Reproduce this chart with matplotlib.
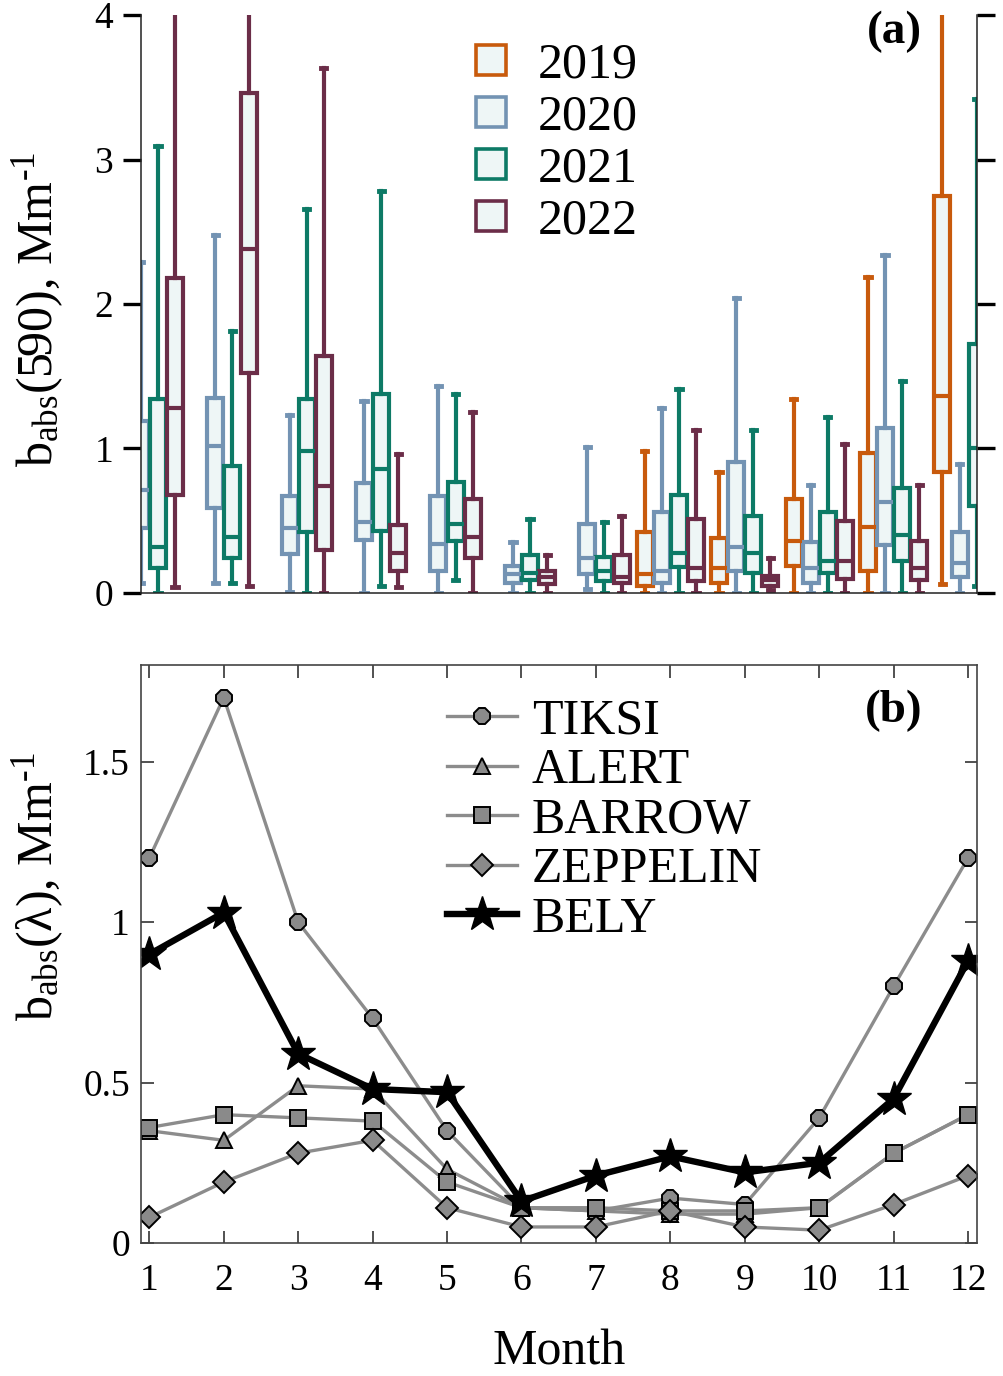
import matplotlib
matplotlib.use('Agg')
import matplotlib.pyplot as plt
from matplotlib.lines import Line2D

plt.rcParams['font.family'] = ['Liberation Serif', 'DejaVu Serif']
plt.rcParams['mathtext.fontset'] = 'custom'
plt.rcParams['mathtext.rm'] = 'Liberation Serif'
plt.rcParams['mathtext.it'] = 'Liberation Serif:italic'

# ---- panel (a): monthly box statistics (low whisker, q1, median, q3, high whisker)
months = list(range(1, 13))
years = ['2019', '2020', '2021', '2022']

box_2019 = [None, None, None, None, None, None, None,
            (0.00, 0.05, 0.13, 0.42, 0.98),
            (0.00, 0.07, 0.17, 0.38, 0.84),
            (0.00, 0.19, 0.36, 0.65, 1.34),
            (0.00, 0.15, 0.46, 0.97, 2.19),
            (0.06, 0.84, 1.36, 2.75, 4.30)]
box_2020 = [(0.07, 0.45, 0.71, 1.19, 2.29),
            (0.07, 0.59, 1.02, 1.35, 2.48),
            (0.01, 0.27, 0.45, 0.67, 1.23),
            (0.00, 0.37, 0.49, 0.76, 1.33),
            (0.00, 0.15, 0.34, 0.67, 1.43),
            (0.00, 0.07, 0.13, 0.19, 0.35),
            (0.03, 0.13, 0.24, 0.48, 1.01),
            (0.00, 0.07, 0.15, 0.56, 1.28),
            (0.00, 0.15, 0.32, 0.91, 2.04),
            (0.00, 0.07, 0.17, 0.35, 0.75),
            (0.00, 0.33, 0.63, 1.14, 2.34),
            (0.00, 0.11, 0.21, 0.42, 0.89)]
box_2021 = [(0.00, 0.17, 0.32, 1.34, 3.09),
            (0.07, 0.24, 0.39, 0.88, 1.81),
            (0.00, 0.42, 0.98, 1.34, 2.66),
            (0.05, 0.43, 0.86, 1.38, 2.78),
            (0.09, 0.36, 0.48, 0.77, 1.38),
            (0.00, 0.09, 0.14, 0.26, 0.51),
            (0.00, 0.08, 0.15, 0.25, 0.49),
            (0.00, 0.18, 0.28, 0.68, 1.41),
            (0.00, 0.14, 0.28, 0.53, 1.13),
            (0.00, 0.14, 0.22, 0.56, 1.22),
            (0.00, 0.22, 0.40, 0.73, 1.47),
            (0.05, 0.60, 1.00, 1.72, 3.42)]
box_2022 = [(0.04, 0.68, 1.28, 2.18, 4.30),
            (0.05, 1.52, 2.38, 3.46, 4.30),
            (0.00, 0.30, 0.74, 1.64, 3.63),
            (0.04, 0.15, 0.28, 0.47, 0.96),
            (0.00, 0.24, 0.39, 0.65, 1.25),
            (0.00, 0.06, 0.11, 0.15, 0.26),
            (0.00, 0.07, 0.11, 0.26, 0.53),
            (0.00, 0.08, 0.17, 0.51, 1.13),
            (0.02, 0.05, 0.09, 0.12, 0.24),
            (0.00, 0.10, 0.22, 0.50, 1.03),
            (0.00, 0.09, 0.17, 0.36, 0.75),
            None]

# ---- panel (b): monthly means per station
tiksi = [1.20, 1.70, 1.00, 0.70, 0.35, 0.11, 0.10, 0.14, 0.12, 0.39, 0.80, 1.20]
alert = [0.35, 0.32, 0.49, 0.48, 0.23, 0.11, 0.10, 0.09, 0.09, 0.11, 0.28, 0.40]
barrow = [0.36, 0.40, 0.39, 0.38, 0.19, 0.11, 0.11, 0.10, 0.10, 0.11, 0.28, 0.40]
zeppelin = [0.08, 0.19, 0.28, 0.32, 0.11, 0.05, 0.05, 0.10, 0.05, 0.04, 0.12, 0.21]
bely = [0.90, 1.03, 0.59, 0.48, 0.47, 0.13, 0.21, 0.27, 0.22, 0.25, 0.45, 0.88]

year_colors = ['#c85a0c', '#7393b3', '#0d7a66', '#6b2d48']
box_fill = '#eef6f6'
offsets = [-0.345, -0.115, 0.115, 0.345]

W, H = 1004, 1376
fig = plt.figure(figsize=(W / 100, H / 100), dpi=100)


def frac(x0, y0, x1, y1):
    return [x0 / W, 1 - y1 / H, (x1 - x0) / W, (y1 - y0) / H]


ax1 = fig.add_axes(frac(141, 15, 977, 593))
ax2 = fig.add_axes(frac(141, 665.5, 977, 1243))
xlim = (0.888, 12.12)
hy = '\u2010'  # short hyphen for the unit exponent

# ---------------- panel (a)
for year_boxes, color, off in zip([box_2019, box_2020, box_2021, box_2022], year_colors, offsets):
    stats, pos = [], []
    for m, b in zip(months, year_boxes):
        if b is None:
            continue
        lo, q1, med, q3, hi = b
        stats.append(dict(whislo=lo, q1=q1, med=med, q3=q3, whishi=hi, fliers=[]))
        pos.append(m + off)
    ax1.bxp(stats, positions=pos, widths=0.215, capwidths=0.07, patch_artist=True,
            showfliers=False, manage_ticks=False,
            boxprops=dict(facecolor=box_fill, edgecolor=color, linewidth=3.0),
            medianprops=dict(color=color, linewidth=3.0),
            whiskerprops=dict(color=color, linewidth=3.0),
            capprops=dict(color=color, linewidth=3.5))

ax1.set_xlim(*xlim)
ax1.set_ylim(0, 4)
ax1.set_yticks([0, 1, 2, 3, 4])
ax1.set_yticklabels(['0', '1', '2', '3', '4'])
ax1.spines['top'].set_visible(False)
for s in ['left', 'right', 'bottom']:
    ax1.spines[s].set_linewidth(1.1)
    ax1.spines[s].set_color('#222222')
ax1.tick_params(axis='y', direction='out', length=13, width=2.4, left=True, right=True,
                labelsize=27, pad=7, color='black')
ax1.tick_params(axis='x', bottom=False, labelbottom=False)

legend_handles_a = [Line2D([], [], linestyle='none', marker='s', markersize=21,
                           markeredgewidth=2.6, markeredgecolor=c, markerfacecolor=box_fill)
                    for c in year_colors]
ax1.legend(legend_handles_a, years, loc='upper left',
           bbox_to_anchor=(466 / W, 1 - 42 / H), bbox_transform=fig.transFigure,
           frameon=False, fontsize=36, borderpad=0, borderaxespad=0,
           handlelength=1.0, handletextpad=0.44, labelspacing=0.11)

fig.text(922 / W, 1 - 11 / H, '(a)', ha='right', va='top', fontsize=34, fontweight='bold')
fig.text(38 / W, 1 - 309 / H, 'b$_{\\rm abs}$(590), Mm$^{\\rm ' + hy + '1}$', rotation=90,
         ha='center', va='center', fontsize=36)

# ---------------- panel (b)
gray = '#8c8c8c'
mface = '#8a8a8a'
series = [(tiksi, 'TIKSI', '8', 13), (alert, 'ALERT', '^', 12),
          (barrow, 'BARROW', 's', 12), (zeppelin, 'ZEPPELIN', 'D', 11)]
for vals, name, mk, ms in series:
    ax2.plot(months, vals, color=gray, linewidth=2.4, marker=mk, markersize=ms,
             markerfacecolor=mface, markeredgecolor='black', markeredgewidth=1.4, label=name)
ax2.plot(months, bely, color='black', linewidth=4.6, marker='*', markersize=26,
         markerfacecolor='black', markeredgecolor='black', label='BELY')

ax2.set_xlim(*xlim)
ax2.set_ylim(0, 1.8)
ax2.set_xticks(months)
ax2.set_yticks([0, 0.5, 1, 1.5])
ax2.set_yticklabels(['0', '0.5', '1', '1.5'])
for s in ax2.spines.values():
    s.set_linewidth(1.2)
    s.set_color('#444444')
ax2.tick_params(direction='in', length=9, width=1.2, top=True, right=True,
                labelsize=27, color='#333333')
ax2.tick_params(axis='x', pad=15)
ax2.tick_params(axis='y', pad=8)
ax2.set_xlabel('Month', fontsize=36, labelpad=22)

ax2.legend(loc='upper left', bbox_to_anchor=(447 / W, 1 - 698 / H), bbox_transform=fig.transFigure,
           frameon=False, fontsize=36, borderpad=0, borderaxespad=0, numpoints=1,
           handlelength=1.4, handletextpad=0.3, labelspacing=0.06)

fig.text(923 / W, 1 - 690 / H, '(b)', ha='right', va='top', fontsize=34, fontweight='bold')
fig.text(38 / W, 1 - 887 / H, 'b$_{\\rm abs}$(λ), Mm$^{\\rm ' + hy + '1}$', rotation=90,
         ha='center', va='center', fontsize=36)

fig.savefig('out.png', dpi=100)
plt.close(fig)
